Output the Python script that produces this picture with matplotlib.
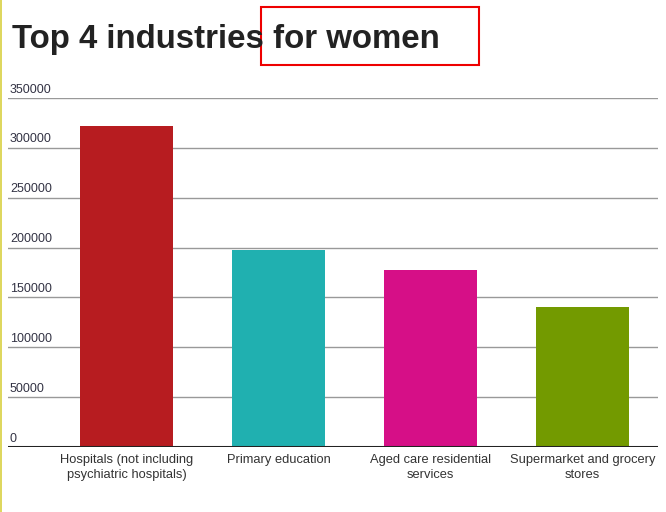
import matplotlib.pyplot as plt
from matplotlib.patches import Rectangle
from matplotlib.lines import Line2D
import matplotlib.transforms as mtransforms

plt.rcParams['font.family'] = ['Liberation Sans', 'DejaVu Sans']

categories = ["Hospitals (not including\npsychiatric hospitals)", "Primary education",
              "Aged care residential\nservices", "Supermarket and grocery\nstores"]
values = [322000, 198000, 178000, 140000]
colors = ["#b71c20", "#20b0b0", "#d60f87", "#739a00"]
yticks = [0, 50000, 100000, 150000, 200000, 250000, 300000, 350000]

W, H = 666, 512
fig = plt.figure(figsize=(W / 100, H / 100), dpi=100)
# axes spans px x 8..658, y 98..447 (top = 350000)
ax = fig.add_axes([8 / W, (H - 447) / H, 650 / W, 349 / H])

x = list(range(len(values)))
ax.bar(x, values, width=93 / 152, color=colors, zorder=2)
ax.set_xlim(-0.78, 3.497)
ax.set_ylim(0, 350000)

for t in yticks:
    if t > 0:
        ax.axhline(t, color="#999999", linewidth=1, zorder=1)
    ax.text(0.003, t + 2500, str(t), transform=mtransforms.blended_transform_factory(ax.transAxes, ax.transData),
            ha="left", va="bottom", fontsize=9, color="#333344")
ax.axhline(0, color="#222222", linewidth=2.2, zorder=3)

for sp in ax.spines.values():
    sp.set_visible(False)
ax.set_yticks([])
ax.set_xticks(x)
ax.set_xticklabels(categories, fontsize=9.3, color="#333333", linespacing=1.3)
ax.tick_params(axis="x", length=0, pad=5)

fig.text(12 / W, 1 - 48 / H, "Top 4 industries for women", fontsize=23.8, fontweight="bold",
         color="#222222", ha="left", va="baseline")

# red highlight box and yellow left edge
fig.add_artist(Rectangle((261 / W, 1 - 65 / H), 218 / W, 58 / H, transform=fig.transFigure,
                         fill=False, edgecolor="#ee0000", linewidth=1.5))
fig.add_artist(Line2D([0.5 / W, 0.5 / W], [0, 1], transform=fig.transFigure, color="#d8d040", linewidth=1.2))

fig.savefig("out.png", dpi=100)
